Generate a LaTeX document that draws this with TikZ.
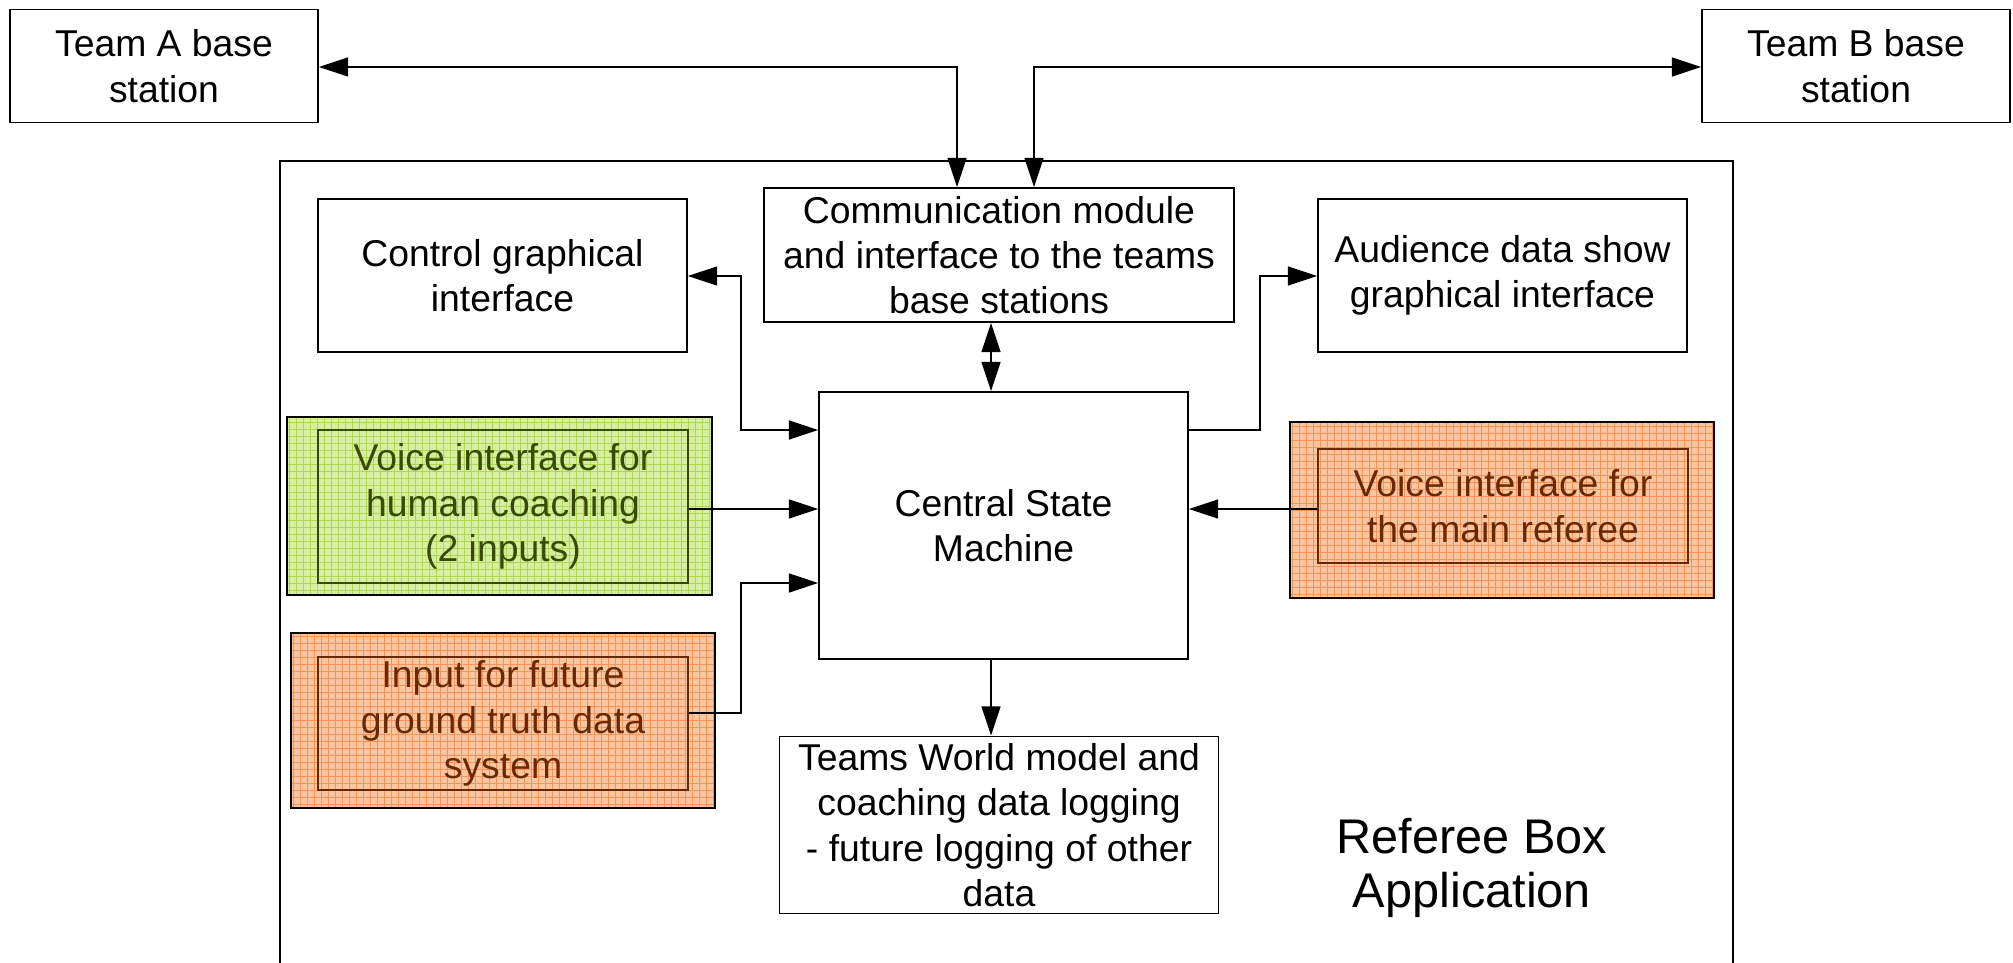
\documentclass[tikz,border=0pt]{standalone}
\usepackage{fontspec}
\setmainfont{Liberation Sans}
\usetikzlibrary{arrows.meta}
\definecolor{gbase}{RGB}{214,238,162}
\definecolor{ggrid}{RGB}{176,214,86}
\definecolor{gtext}{RGB}{55,75,0}
\definecolor{obase}{RGB}{250,198,160}
\definecolor{ogrid}{RGB}{244,148,88}
\definecolor{otext}{RGB}{105,40,0}
\begin{document}
\begin{tikzpicture}[x=0.75pt,y=-0.75pt,
  box/.style={draw=black, line width=1.2pt, fill=white, align=center, inner sep=0pt,
    font=\fontsize{28}{34}\selectfont},
  gouter/.style={draw=black, line width=1.6pt, fill=gbase, inner sep=0pt,
    path picture={\draw[ggrid, line width=0.6pt, step=5.25pt]
      (path picture bounding box.south west) grid (path picture bounding box.north east);}},
  oouter/.style={draw=black, line width=1.6pt, fill=obase, inner sep=0pt,
    path picture={\draw[ogrid, line width=0.6pt, step=5.25pt]
      (path picture bounding box.south west) grid (path picture bounding box.north east);}},
  ginner/.style={draw=gtext, line width=0.9pt, align=center, inner sep=0pt, text=gtext,
    font=\fontsize{28}{34}\selectfont},
  oinner/.style={draw=otext, line width=0.9pt, align=center, inner sep=0pt, text=otext,
    font=\fontsize{28}{34}\selectfont},
  tip/.tip={Triangle[length=22pt,width=14pt]},
  arr/.style={line width=2pt, -tip},
  darr/.style={line width=2pt, tip-tip},
]
\useasboundingbox (0,0) rectangle (2013,963);
\fill[white] (0,0) rectangle (2013,963);

% outer application frame
\draw[line width=1.2pt] (280,970) -- (280,161) -- (1733,161) -- (1733,970);
\node[font=\fontsize{36.5}{40.5}\selectfont, align=center] (rba) at (1472,868) {Referee Box\\Application};

% boxes
\node[box, minimum width=231pt, minimum height=84.5pt] (tA) at (164,66) {Team A base\\station};
\node[box, minimum width=231pt, minimum height=84.5pt] (tB) at (1856,66) {Team B base\\station};
\node[box, minimum width=352.5pt, minimum height=100.5pt] (comm) at (999,255)
  {Communication module\\and interface to the teams\\base stations};
\node[box, minimum width=276.75pt, minimum height=114.75pt] (ctrl) at (502.5,275.5)
  {Control graphical\\interface};
\node[box, minimum width=276.75pt, minimum height=114.75pt] (aud) at (1502.5,275.5)
  {Audience data show\\graphical interface};
\node[box, minimum width=276.75pt, minimum height=200.25pt] (csm) at (1003.5,525.5)
  {Central State\\Machine};
\node[box, minimum width=329.25pt, minimum height=132.75pt] (tw) at (999,825)
  {Teams World model and\\coaching data logging\\- future logging of other\\data};

% coloured boxes
\node[gouter, minimum width=318.75pt, minimum height=133.5pt] (gout) at (499.5,506) {};
\node[ginner, minimum width=277.5pt, minimum height=114.75pt] (gin) at (503,506.5)
  {Voice interface for\\human coaching\\(2 inputs)};
\node[oouter, minimum width=318pt, minimum height=131.25pt] (iout) at (503,720.5) {};
\node[oinner, minimum width=277.5pt, minimum height=99.75pt] (iin) at (503,723.5)
  {Input for future\\ground truth data\\system};
\node[oouter, minimum width=318pt, minimum height=132pt] (rout) at (1502,510) {};
\node[oinner, minimum width=277.5pt, minimum height=85.5pt] (rin) at (1503,506)
  {Voice interface for\\the main referee};

% routing coordinates
\coordinate (ja) at (957,67);
\coordinate (jb) at (1034,67);
\coordinate (cx) at (991,0);
\coordinate (k1) at (741,276);
\coordinate (k2) at (741,430);
\coordinate (a1) at (1260,430);
\coordinate (a2) at (1260,276);
\coordinate (p1) at (741,713);
\coordinate (p2) at (741,583);
\coordinate (gy) at (0,509);

% connectors
\draw[darr] (tA.east |- ja) -- (ja) -- (ja |- comm.north);
\draw[darr] (jb |- comm.north) -- (jb) -- (tB.west |- jb);
\draw[darr] (comm.south -| cx) -- (csm.north -| cx);
\draw[darr] (ctrl.east |- k1) -- (k1) -- (k2) -- (csm.west |- k2);
\draw[arr] (csm.east |- a1) -- (a1) -- (a2) -- (aud.west |- a2);
\draw[arr] (gin.east |- gy) -- (csm.west |- gy);
\draw[arr] (iin.east |- p1) -- (p1) -- (p2) -- (csm.west |- p2);
\draw[arr] (rin.west |- gy) -- (csm.east |- gy);
\draw[arr] (csm.south -| cx) -- (tw.north -| cx);
\end{tikzpicture}
\end{document}
